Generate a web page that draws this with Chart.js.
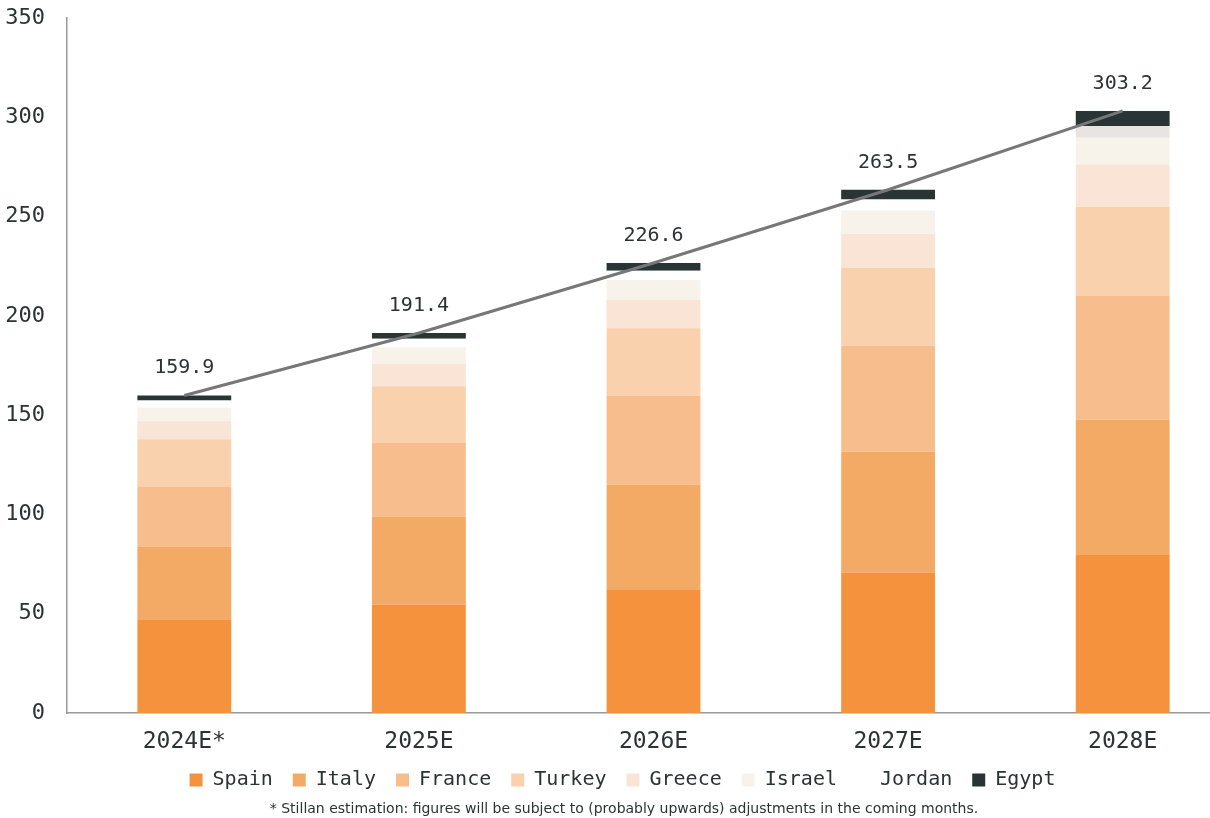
<!DOCTYPE html>
<html>
<head>
<meta charset="utf-8">
<script src="https://cdn.jsdelivr.net/npm/chart.js@4"></script>
<style>
    html, body { margin: 0; padding: 0; background: #fff; overflow: hidden; }
    #wrap { position: relative; width: 1210px; height: 818px; overflow: hidden; }
    #chart { position: absolute; left: 0; top: 0; }
    #note {
        position: absolute; left: 0; width: 1248px; top: 800px;
        text-align: center; font: 14px "DejaVu Sans", sans-serif; color: #2b3333;
    }
</style>
</head>
<body>
<div id="wrap">
    <canvas id="chart" width="1255" height="818"></canvas>
    <div id="note">* Stillan estimation: figures will be subject to (probably upwards) adjustments in the coming months.</div>
</div>
<script>
const years = ['2024E*', '2025E', '2026E', '2027E', '2028E'];

const spain  = [46.8, 54.7, 61.9, 70.7, 79.6];
const italy  = [37.0, 44.2, 53.1, 60.9, 68.2];
const france = [30.0, 37.1, 44.9, 53.5, 62.5];
const turkey = [24.0, 28.5, 33.8, 39.0, 44.5];
const greece = [9.1, 11.4, 14.3, 17.2, 21.4];
const israel = [7.0, 8.3, 10.1, 11.8, 13.5];
const jordan = [3.5, 4.3, 4.6, 5.5, 5.9];
const egypt  = [2.5, 2.9, 3.9, 4.9, 7.6];

const totals = [159.9, 191.4, 226.6, 263.5, 303.2];

const yTicks = [0, 50, 100, 150, 200, 250, 300, 350];

const textColor = '#2b3333';
const mono = '"DejaVu Sans Mono", monospace';

function barSet(label, data, color) {
    return {
        type: 'bar',
        label: label,
        data: data,
        backgroundColor: color,
        borderWidth: 0,
        stack: 'countries',
        order: 1,
        barPercentage: 0.4,
        categoryPercentage: 1
    };
}

// Jordan is white except in the last year
const jordanColor = (ctx) => (ctx.dataIndex === 4 ? '#e8e4e2' : '#ffffff');

const totalLabels = {
    id: 'totalLabels',
    afterDatasetsDraw(chart) {
        const meta = chart.getDatasetMeta(8);
        const c = chart.ctx;
        c.save();
        c.font = `20px ${mono}`;
        c.fillStyle = textColor;
        c.textAlign = 'center';
        c.textBaseline = 'alphabetic';
        meta.data.forEach((pt, i) => {
            c.fillText(totals[i].toFixed(1), pt.x, pt.y - 22);
        });
        c.restore();
    }
};

// pull the legend a bit closer to the axis labels
const legendShift = {
    id: 'legendShift',
    afterLayout(chart) {
        chart.legend.top -= 10;
        chart.legend.bottom -= 10;
    }
};

new Chart(document.getElementById('chart').getContext('2d'), {
    data: {
        labels: years,
        datasets: [
            barSet('Spain', spain, '#f5923e'),
            barSet('Italy', italy, '#f2aa64'),
            barSet('France', france, '#f8bd8c'),
            barSet('Turkey', turkey, '#f9d1ac'),
            barSet('Greece', greece, '#f9e4d6'),
            barSet('Israel', israel, '#f8f3ea'),
            barSet('Jordan', jordan, jordanColor),
            barSet('Egypt', egypt, '#293434'),
            {
                type: 'line',
                label: 'Total',
                data: totals,
                borderColor: '#777777',
                borderWidth: 3,
                pointRadius: 0,
                tension: 0,
                stack: 'total',
                order: 0
            }
        ]
    },
    options: {
        responsive: false,
        animation: false,
        layout: { padding: { left: 5, right: 15, top: 18, bottom: 8 } },
        plugins: {
            tooltip: { enabled: false },
            legend: {
                position: 'bottom',
                labels: {
                    color: textColor,
                    font: { family: mono, size: 20 },
                    boxWidth: 13,
                    boxHeight: 13,
                    padding: 20,
                    filter: (item) => item.datasetIndex < 8
                }
            }
        },
        scales: {
            x: {
                stacked: true,
                grid: { display: false, drawTicks: false },
                border: { color: '#999999', width: 1.5 },
                ticks: { color: textColor, font: { family: mono, size: 23 }, padding: 15 },
                afterFit: (axis) => {
                    axis.height = 47;
                    axis.paddingLeft = 0;
                    axis.paddingRight = 0;
                }
            },
            y: {
                stacked: true,
                min: 0,
                max: 350,
                afterBuildTicks: (axis) => { axis.ticks = yTicks.map(v => ({ value: v })); },
                grid: { display: false, drawTicks: false },
                border: { color: '#999999', width: 1.5 },
                ticks: { color: textColor, font: { family: mono, size: 22 }, padding: 22 },
                afterFit: (axis) => {
                    axis.width = 62;
                    axis.paddingTop = 0;
                    axis.paddingBottom = 0;
                }
            }
        }
    },
    plugins: [totalLabels, legendShift]
});
</script>
</body>
</html>
